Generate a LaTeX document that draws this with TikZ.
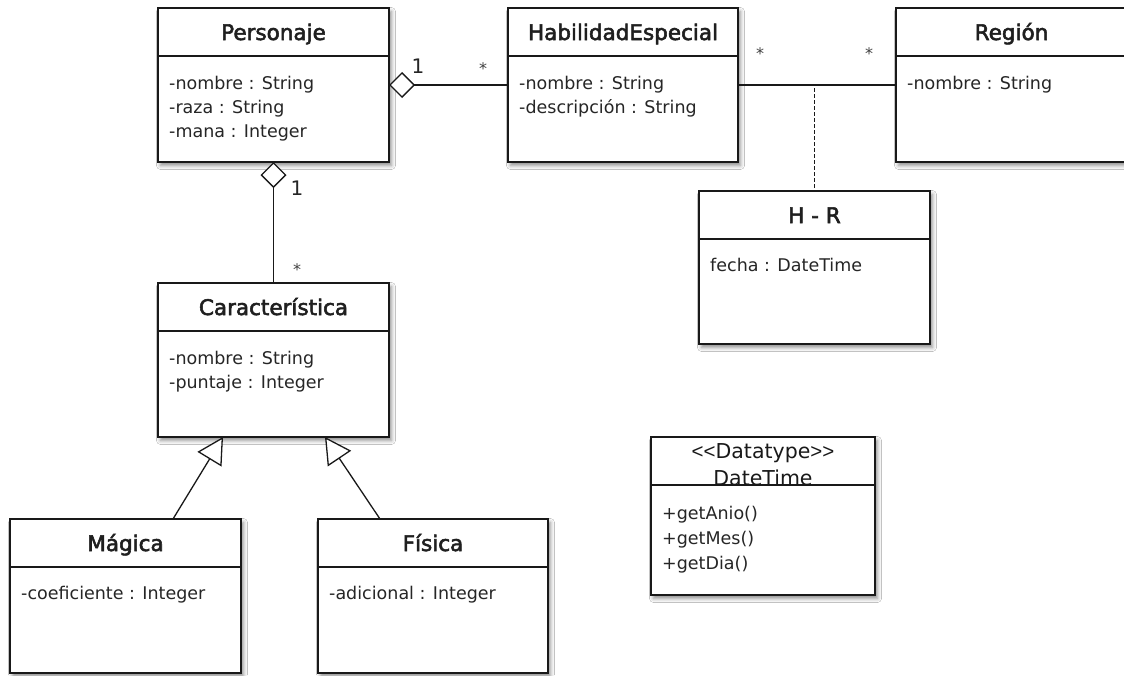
\documentclass[tikz,border=0pt]{standalone}
\usepackage{fontspec}
\setmainfont{DejaVu Sans}
\newfontfamily\ttlfont{DejaVu Sans}[FakeBold=2.5]
\newfontfamily\libsans{Liberation Sans}
\usetikzlibrary{arrows.meta,calc,shadows.blur}

\tikzset{
  classbox/.style={draw=black!90, line width=1.5pt, fill=white, rectangle, inner sep=0pt, outer sep=0pt, anchor=north west,
    blur shadow={shadow xshift=2.5pt, shadow yshift=-3.5pt, shadow blur radius=4pt, shadow opacity=45}},
  divider/.style={draw=black!90, line width=1.2pt},
  ttl/.style={font=\ttlfont\fontsize{21.5}{24}\selectfont, text=black!88, anchor=base, inner sep=0pt},
  dttl/.style={font=\fontsize{20.5}{24}\selectfont, text=black!90, anchor=base, inner sep=0pt},
  attr/.style={font=\fontsize{17.5}{20}\selectfont, text=black!85, anchor=base west, inner sep=0pt},
  mult/.style={font=\fontsize{20}{22}\selectfont, text=black!85, anchor=base, inner sep=0pt},
  star/.style={font=\fontsize{16}{18}\selectfont, text=black!75, anchor=base, inner sep=0pt},
  conn/.style={draw=black!90, line width=1.3pt},
  aggr/.style={conn, {Diamond[open, fill=white, length=26pt, width=26pt, line width=1.3pt]}-},
  gen/.style={conn, -{Triangle[open, fill=white, length=26pt, width=28pt, line width=1.3pt]}},
  assocdash/.style={draw=black!90, line width=1.2pt, dash pattern=on 4pt off 2pt},
}

\newcommand\umlbox[6]{%
  \node[classbox, minimum width=#4pt, minimum height=#5pt] (#1) at (#2,#3) {};
  \draw[divider] ($(#1.north west)+(0,48)$) -- ($(#1.north east)+(0,48)$);
  \node[ttl] (#1-title) at ($(#1.north)+(0,32)$) {#6};
}
\newcommand\umlattr[4]{%
  \node[attr] (#1) at ($(#2.north west)+(11,#3)$) {#4};
}

\begin{document}
\begin{tikzpicture}[x=1pt,y=-1pt]
\useasboundingbox (0,0) rectangle (1124,675);
\clip (0,0) rectangle (1124,675);
\fill[white] (0,0) rectangle (1124,675);

% classes
\umlbox{pers}{158}{8}{231}{154}{Personaje}
\umlattr{pers-a1}{pers}{81}{-nombre : String}
\umlattr{pers-a2}{pers}{105}{-raza : String}
\umlattr{pers-a3}{pers}{129}{-mana : Integer}

\umlbox{hab}{508}{8}{230}{154}{HabilidadEspecial}
\umlattr{hab-a1}{hab}{81}{-nombre : String}
\umlattr{hab-a2}{hab}{105}{-descripción : String}

\umlbox{reg}{896}{8}{231}{154}{Región}
\umlattr{reg-a1}{reg}{81}{-nombre : String}

\umlbox{hr}{699}{191}{231}{153}{H - R}
\umlattr{hr-a1}{hr}{80}{fecha : DateTime}

\umlbox{car}{158}{283}{231}{154}{Característica}
\umlattr{car-a1}{car}{81}{-nombre : String}
\umlattr{car-a2}{car}{105}{-puntaje : Integer}

\umlbox{mag}{10}{519}{231}{154}{Mágica}
\umlattr{mag-a1}{mag}{80}{-coeficiente : Integer}

\umlbox{fis}{318}{519}{230}{154}{Física}
\umlattr{fis-a1}{fis}{80}{-adicional : Integer}

% datatype
\node[classbox, minimum width=224pt, minimum height=158pt] (dt) at (651,437) {};
\node[dttl] (dt-st) at ($(dt.north)+(0,21)$) {{\libsans<\kern0pt<}Datatype{\libsans>\kern0pt>}};
\node[dttl] (dt-title) at ($(dt.north)+(0,48)$) {DateTime};
\draw[divider] ($(dt.north west)+(0,48)$) -- ($(dt.north east)+(0,48)$);
\umlattr{dt-m1}{dt}{82}{+getAnio()}
\umlattr{dt-m2}{dt}{107}{+getMes()}
\umlattr{dt-m3}{dt}{132}{+getDia()}

% connectors
\draw[aggr] (pers.east) -- (hab.west);
\draw[conn] (hab.east) -- (reg.west);
\coordinate (ac) at ($(hr.north |- hab.east)+(0,3)$);
\draw[assocdash] (ac) -- (hr.north);
\draw[aggr] (pers.south) -- (car.north);
\coordinate (magtop) at ($(mag.north west)+(163,0)$);
\coordinate (cartipL) at ($(car.south west)+(65,0)$);
\draw[gen] (magtop) -- (cartipL);
\coordinate (fistop) at ($(fis.north west)+(62,0)$);
\coordinate (cartipR) at ($(car.south west)+(167,0)$);
\draw[gen] (fistop) -- (cartipR);

% multiplicities
\node[mult] (m1) at (418,73.5) {1};
\node[star] (s1) at (483,74) {*};
\node[star] (s2) at (760,59) {*};
\node[star] (s3) at (869,59) {*};
\node[mult] (m2) at (297,195.5) {1};
\node[star] (s4) at (297,275) {*};
\end{tikzpicture}
\end{document}
